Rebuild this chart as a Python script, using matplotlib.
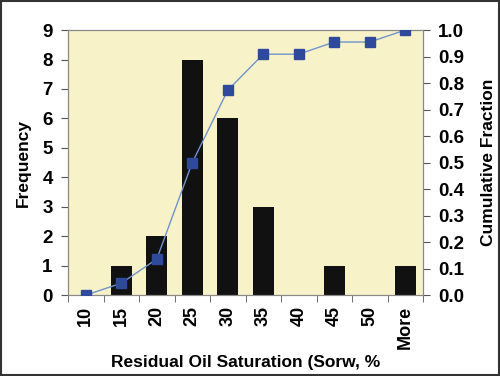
import numpy as np
import matplotlib
matplotlib.use("Agg")
import matplotlib.pyplot as plt
from matplotlib.patches import Rectangle

categories = ["10", "15", "20", "25", "30", "35", "40", "45", "50", "More"]
frequency = [0, 1, 2, 8, 6, 3, 0, 1, 0, 1]
cumulative = [0.0, 0.045, 0.136, 0.5, 0.773, 0.909, 0.909, 0.955, 0.955, 1.0]

plt.rcParams['font.family'] = ['Liberation Sans', 'DejaVu Sans']
plt.rcParams['font.weight'] = 'bold'

fig = plt.figure(figsize=(5, 3.76), dpi=100)
fig.patch.set_facecolor("white")
fig.patches.append(Rectangle((0.002, 0.003), 0.996, 0.994, transform=fig.transFigure,
                             fill=False, edgecolor="#333333", linewidth=1.5))

ax = fig.add_axes([0.136, 0.215, 0.71, 0.705])
ax.set_facecolor("#F8F2C9")
x = np.arange(len(categories))
ax.bar(x, frequency, width=0.58, color="#111111", zorder=2)
ax.set_xlim(-0.5, len(categories) - 0.5)
ax.set_ylim(0, 9)
ax.set_yticks(range(0, 10))
ax.set_xticks(x)
ax.set_xticklabels(categories, rotation=90, fontsize=13, fontweight='bold')
ax.set_xticks(np.arange(-0.5, len(categories)), minor=True)
ax.tick_params(axis='x', which='major', length=0, pad=8)
ax.tick_params(axis='x', which='minor', length=5, color="#555555", direction='out')
ax.tick_params(axis='y', length=5, color="#555555", labelsize=13.5, pad=6)
for lbl in ax.get_yticklabels():
    lbl.set_fontweight('bold')
for s in ax.spines.values():
    s.set_color("#888888")
ax.set_ylabel("Frequency", fontsize=12.5, fontweight='bold', labelpad=8)
ax.set_xlabel("Residual Oil Saturation (Sorw, %", fontsize=12.5, fontweight='bold', labelpad=4)

ax2 = ax.twinx()
ax2.plot(x, cumulative, color="#7094CC", linewidth=1.0, marker='s', markersize=6.5,
         markerfacecolor="#2F4A9A", markeredgecolor="#2F4A9A", zorder=3)
ax2.set_ylim(0, 1.0)
ax2.set_yticks(np.arange(0, 1.01, 0.1))
ax2.set_yticklabels([f"{v:.1f}" for v in np.arange(0, 1.01, 0.1)], fontweight='bold')
ax2.tick_params(axis='y', length=5, color="#555555", labelsize=13.5, pad=6)
for s in ax2.spines.values():
    s.set_color("#888888")
ax2.set_ylabel("Cumulative Fraction", fontsize=12.5, fontweight='bold', labelpad=12)

fig.savefig("out.png", dpi=100)
